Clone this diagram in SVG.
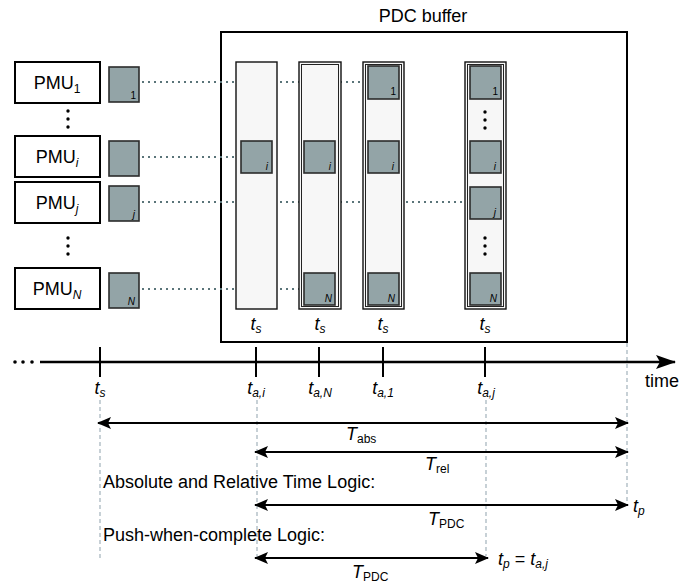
<svg xmlns="http://www.w3.org/2000/svg" width="697" height="583" viewBox="0 0 697 583">
<style>
text{font-family:"Liberation Sans",Arial,sans-serif;fill:#000}
.lbl{font-size:18px}
.it{font-style:italic}
.sub{font-size:12px}
.sq{fill:#93a4a7;stroke:#2b2b2b;stroke-width:1.6}
.pmu{fill:#fff;stroke:#000;stroke-width:2}
.col{fill:#f7f7f7;stroke:#111;stroke-width:1.4}
.coli{fill:none;stroke:#222;stroke-width:1}
.sql{font-size:10px;text-anchor:end}
.dot{stroke:#5a7479;stroke-width:2;stroke-dasharray:2 4;fill:none}
.dash{stroke:#aab8c0;stroke-width:1.3;stroke-dasharray:4 3;fill:none}
.arr{stroke:#000;stroke-width:2;fill:none;marker-start:url(#ah);marker-end:url(#ah)}
</style>
<defs>
<marker id="ah" markerUnits="userSpaceOnUse" markerWidth="14" markerHeight="12" refX="13" refY="6" orient="auto-start-reverse"><path d="M0,0 L14,6 L0,12 L3,6 z" fill="#000"/></marker>
<marker id="ta" markerUnits="userSpaceOnUse" markerWidth="20" markerHeight="14" refX="19" refY="7" orient="auto"><path d="M0,0 L20,7 L0,14 L4,7 z" fill="#000"/></marker>
</defs>

<!-- dashed guides -->
<g id="guides">
<line class="dash" x1="100" y1="400" x2="100" y2="558"/>
<line class="dash" x1="257" y1="400" x2="257" y2="558"/>
<line class="dash" x1="486" y1="400" x2="486" y2="556"/>
<line class="dash" x1="627" y1="343" x2="627" y2="505"/>
</g>

<!-- PDC buffer -->
<g id="pdc-buffer">
<rect x="221" y="32" width="406" height="310" fill="#fff" stroke="#000" stroke-width="2"/>
<text class="lbl" x="423" y="22" text-anchor="middle">PDC buffer</text>
</g>

<!-- connectors -->
<g id="connectors">
<line class="dot" x1="142" y1="82" x2="363" y2="82"/>
<line class="dot" x1="142" y1="157" x2="236" y2="157"/>
<line class="dot" x1="142" y1="202" x2="465" y2="202"/>
<line class="dot" x1="142" y1="289" x2="299" y2="289"/>
</g>

<!-- PMUs -->
<g id="pmu1">
<rect class="pmu" x="15" y="62" width="85" height="41"/>
<text class="lbl" x="57" y="89" text-anchor="middle">PMU<tspan class="sub" dy="4">1</tspan></text>
<rect class="sq" x="109" y="67" width="30" height="35"/>
<text class="sql" x="136" y="99">1</text>
</g>
<g id="pmu-dots1">
<circle cx="68" cy="111" r="1.7"/><circle cx="68" cy="119" r="1.7"/><circle cx="68" cy="127" r="1.7"/>
</g>
<g id="pmui">
<rect class="pmu" x="15" y="136" width="85" height="41"/>
<text class="lbl" x="57" y="163" text-anchor="middle">PMU<tspan class="sub it" dy="4">i</tspan></text>
<rect class="sq" x="109" y="141" width="30" height="35"/>
</g>
<g id="pmuj">
<rect class="pmu" x="15" y="182" width="85" height="41"/>
<text class="lbl" x="57" y="209" text-anchor="middle">PMU<tspan class="sub it" dy="4">j</tspan></text>
<rect class="sq" x="109" y="186" width="30" height="35"/>
<text class="sql it" x="135" y="218">j</text>
</g>
<g id="pmu-dots2">
<circle cx="68" cy="238" r="1.7"/><circle cx="68" cy="246" r="1.7"/><circle cx="68" cy="254" r="1.7"/>
</g>
<g id="pmuN">
<rect class="pmu" x="15" y="268" width="85" height="41"/>
<text class="lbl" x="57" y="295" text-anchor="middle">PMU<tspan class="sub it" dy="4">N</tspan></text>
<rect class="sq" x="109" y="273" width="30" height="35"/>
<text class="sql it" x="135" y="305">N</text>
</g>

<!-- buffer columns -->
<g id="col1">
<rect class="col" x="236" y="62" width="41" height="247"/>
<rect class="sq" x="241" y="141" width="31" height="32"/>
<text class="sql it" x="268" y="170">i</text>
<text class="lbl it" x="256" y="330" text-anchor="middle">t<tspan class="sub" dy="3">s</tspan></text>
</g>
<g id="col2">
<rect class="col" x="299" y="62" width="42" height="247"/>
<rect class="coli" x="301.5" y="64.5" width="37" height="242"/>
<rect class="sq" x="304" y="141" width="31" height="32"/>
<text class="sql it" x="331" y="170">i</text>
<rect class="sq" x="304" y="273" width="31" height="32"/>
<text class="sql it" x="332" y="302">N</text>
<text class="lbl it" x="320" y="330" text-anchor="middle">t<tspan class="sub" dy="3">s</tspan></text>
</g>
<g id="col3">
<rect class="col" x="363" y="62" width="41" height="247"/>
<rect class="coli" x="365.5" y="64.5" width="36" height="242"/>
<rect class="sq" x="368" y="66" width="31" height="33"/>
<text class="sql" x="396" y="95">1</text>
<rect class="sq" x="368" y="141" width="31" height="32"/>
<text class="sql it" x="394" y="170">i</text>
<rect class="sq" x="368" y="273" width="31" height="32"/>
<text class="sql it" x="395" y="302">N</text>
<text class="lbl it" x="383" y="330" text-anchor="middle">t<tspan class="sub" dy="3">s</tspan></text>
</g>
<g id="col4">
<rect class="col" x="465" y="62" width="41" height="247"/>
<rect class="coli" x="467.5" y="64.5" width="36" height="242"/>
<rect class="sq" x="470" y="66" width="31" height="33"/>
<text class="sql" x="498" y="95">1</text>
<circle cx="485" cy="112" r="1.7"/><circle cx="485" cy="120" r="1.7"/><circle cx="485" cy="128" r="1.7"/>
<rect class="sq" x="470" y="141" width="31" height="32"/>
<text class="sql it" x="496" y="170">i</text>
<rect class="sq" x="470" y="187" width="31" height="32"/>
<text class="sql it" x="496" y="216">j</text>
<circle cx="485" cy="238" r="1.7"/><circle cx="485" cy="246" r="1.7"/><circle cx="485" cy="254" r="1.7"/>
<rect class="sq" x="470" y="273" width="31" height="32"/>
<text class="sql it" x="497" y="302">N</text>
<text class="lbl it" x="485" y="330" text-anchor="middle">t<tspan class="sub" dy="3">s</tspan></text>
</g>

<!-- timeline -->
<g id="timeline">
<circle cx="15" cy="362" r="1.8"/><circle cx="23" cy="362" r="1.8"/><circle cx="32" cy="362" r="1.8"/>
<line x1="40" y1="362" x2="675" y2="362" stroke="#000" stroke-width="2.5" marker-end="url(#ta)"/>
<g stroke="#000" stroke-width="2">
<line x1="100" y1="347" x2="100" y2="377"/>
<line x1="256" y1="347" x2="256" y2="377"/>
<line x1="319" y1="347" x2="319" y2="377"/>
<line x1="383" y1="347" x2="383" y2="377"/>
<line x1="485" y1="347" x2="485" y2="377"/>
</g>
<text class="lbl" x="645" y="387">time</text>
<text class="lbl it" x="100" y="394" text-anchor="middle">t<tspan class="sub" dy="3">s</tspan></text>
<text class="lbl it" x="256" y="394" text-anchor="middle">t<tspan class="sub" dy="3">a,i</tspan></text>
<text class="lbl it" x="320" y="394" text-anchor="middle">t<tspan class="sub" dy="3">a,N</tspan></text>
<text class="lbl it" x="383" y="394" text-anchor="middle">t<tspan class="sub" dy="3">a,1</tspan></text>
<text class="lbl it" x="486" y="394" text-anchor="middle">t<tspan class="sub" dy="3">a,j</tspan></text>
</g>

<!-- intervals -->
<g id="intervals">
<line class="arr" x1="98" y1="423" x2="628" y2="423"/>
<text class="lbl it" x="346" y="440">T<tspan class="sub" font-style="normal" dy="3">abs</tspan></text>
<line class="arr" x1="255" y1="452" x2="628" y2="452"/>
<text class="lbl it" x="425" y="470">T<tspan class="sub" font-style="normal" dy="3">rel</tspan></text>
<text class="lbl" x="103" y="488">Absolute and Relative Time Logic:</text>
<line class="arr" x1="255" y1="505" x2="628" y2="505"/>
<text class="lbl it" x="428" y="525">T<tspan class="sub" font-style="normal" dy="3">PDC</tspan></text>
<text class="lbl it" x="633" y="512">t<tspan class="sub" dy="3">p</tspan></text>
<text class="lbl" x="103" y="541">Push-when-complete Logic:</text>
<line class="arr" x1="255" y1="558" x2="488" y2="558"/>
<text class="lbl it" x="352" y="578">T<tspan class="sub" font-style="normal" dy="3">PDC</tspan></text>
<text class="lbl it" x="498" y="565">t<tspan class="sub" dy="3">p</tspan><tspan dy="-3" font-style="normal"> = </tspan>t<tspan class="sub" dy="3">a,j</tspan></text>
</g>
</svg>
